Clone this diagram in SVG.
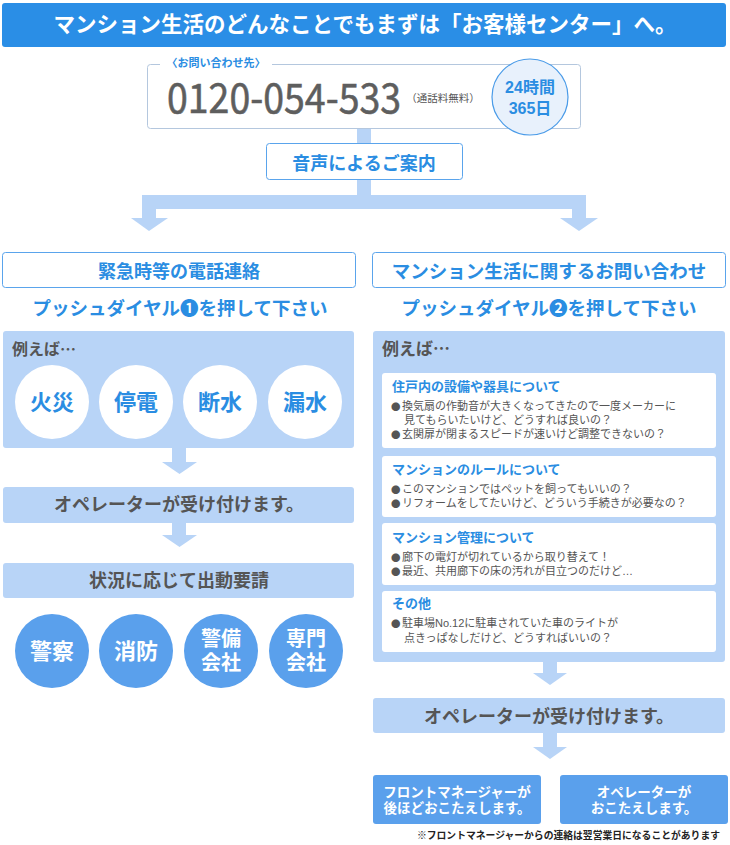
<svg xmlns="http://www.w3.org/2000/svg" width="730" height="845" viewBox="0 0 730 845">
<style>
text{font-family:"Noto Sans CJK JP","Liberation Sans",sans-serif;}
.t{font-family:"Liberation Sans","Noto Sans CJK JP",sans-serif;}
.bul{font-family:"Noto Sans CJK JP",sans-serif;font-size:9.5px;fill:#555555;}
.b{font-weight:700;}
.blue{fill:#2a8de2;}
.grey{fill:#555555;}
.white{fill:#ffffff;}
.panel{fill:#b8d4f7;}
.arrow{fill:#b8d4f7;}
.obox{fill:#fff;stroke:#5aa4ec;stroke-width:1;}
.wbox{fill:#fff;}
.dcirc{fill:#5aa0ec;}
.wcirc{fill:#fff;}
.c{text-anchor:middle;}
</style>
<rect width="730" height="845" fill="#ffffff"/>

<g id="header">
<rect x="2" y="3" width="724" height="44" rx="3" fill="#2a8ee6"/>
<text x="365" y="32" class="b white c" font-size="21.5">マンション生活のどんなことでもまずは「お客様センター」へ。</text>
</g>

<g id="contact">
<rect x="147.5" y="64.5" width="433" height="64" rx="3" fill="#fff" stroke="#b4c7de" stroke-width="1"/>
<rect x="160" y="59" width="112" height="10" fill="#fff"/>
<text x="216" y="67" class="t b blue c" font-size="11">〈お問い合わせ先〉</text>
<text x="0" y="0" transform="translate(167,113) scale(1,1.1)" font-family="'Liberation Sans',sans-serif" font-size="37.5" fill="#5e5e5e" stroke="#5e5e5e" stroke-width="0.5">0120-054-533</text>
<text x="443" y="102" class="t grey c" font-size="10.5">（通話料無料）</text>
<circle cx="530" cy="97" r="38" fill="#e8f1fc" stroke="#4a9be8" stroke-width="1.2"/>
<text x="530" y="93" class="t b blue c" font-size="16">24時間</text>
<text x="530" y="114" class="t b blue c" font-size="16">365日</text>
</g>

<g id="connectors">
<rect x="357" y="129" width="14" height="16" class="arrow"/>
<rect x="357" y="179" width="14" height="18" class="arrow"/>
<rect x="142" y="195" width="444" height="14" class="arrow"/>
<rect x="142" y="209" width="14" height="9" class="arrow"/>
<polygon points="131,218 168,218 149,231" class="arrow"/>
<rect x="572" y="209" width="14" height="9" class="arrow"/>
<polygon points="560,218 598,218 579,231" class="arrow"/>
<rect x="172" y="448" width="14" height="14" class="arrow"/>
<polygon points="162,462 197,462 179.5,474" class="arrow"/>
<rect x="172" y="523" width="14" height="12" class="arrow"/>
<polygon points="162,535 197,535 179.5,547" class="arrow"/>
<rect x="543" y="662" width="14" height="11" class="arrow"/>
<polygon points="533,673 567,673 550,685" class="arrow"/>
<rect x="543" y="733" width="14" height="14" class="arrow"/>
<polygon points="533,747 567,747 550,759" class="arrow"/>
</g>

<g id="voice">
<rect x="266.5" y="143.5" width="196" height="36" rx="3" class="obox"/>
<text x="364" y="170" class="b blue c" font-size="18">音声によるご案内</text>
</g>

<g id="emergency-title">
<rect x="2.5" y="252.5" width="353" height="35" rx="3" class="obox"/>
<text x="179" y="278" class="b blue c" font-size="18">緊急時等の電話連絡</text>
<text x="180" y="315" class="b blue c" font-size="18.5">プッシュダイヤル❶を押して下さい</text>
</g>

<g id="emergency-examples">
<rect x="3" y="331" width="351" height="117" rx="3" class="panel"/>
<text x="12" y="355" class="b grey" font-size="16">例えば…</text>
<circle cx="52" cy="402" r="37" class="wcirc"/>
<circle cx="136" cy="402" r="37" class="wcirc"/>
<circle cx="220" cy="402" r="37" class="wcirc"/>
<circle cx="305" cy="402" r="37" class="wcirc"/>
<text x="52" y="410" class="b blue c" font-size="22">火災</text>
<text x="136" y="410" class="b blue c" font-size="22">停電</text>
<text x="220" y="410" class="b blue c" font-size="22">断水</text>
<text x="305" y="410" class="b blue c" font-size="22">漏水</text>
</g>

<g id="operator-left">
<rect x="3" y="487" width="351" height="36" rx="3" class="panel"/>
<text x="179" y="511" class="b grey c" font-size="18">オペレーターが受け付けます。</text>
</g>

<g id="dispatch">
<rect x="3" y="563" width="351" height="35" rx="3" class="panel"/>
<text x="179" y="587" class="b grey c" font-size="18">状況に応じて出動要請</text>
</g>

<g id="responders">
<circle cx="52" cy="651" r="37" class="dcirc"/>
<circle cx="136" cy="651" r="37" class="dcirc"/>
<circle cx="221" cy="651" r="37" class="dcirc"/>
<circle cx="306" cy="651" r="37" class="dcirc"/>
<text x="52" y="659" class="b white c" font-size="22">警察</text>
<text x="136" y="659" class="b white c" font-size="22">消防</text>
<text x="221" y="646" class="t b white c" font-size="20">警備</text>
<text x="221" y="670" class="t b white c" font-size="20">会社</text>
<text x="306" y="646" class="t b white c" font-size="20">専門</text>
<text x="306" y="670" class="t b white c" font-size="20">会社</text>
</g>

<g id="inquiry-title">
<rect x="372.5" y="252.5" width="353" height="35" rx="3" class="obox"/>
<text x="549" y="278" class="b blue c" font-size="18.5">マンション生活に関するお問い合わせ</text>
<text x="549" y="315" class="b blue c" font-size="18.5">プッシュダイヤル❷を押して下さい</text>
</g>

<g id="inquiry-examples">
<rect x="373" y="331" width="352" height="331" rx="3" class="panel"/>
<text x="382" y="355" class="b grey" font-size="17">例えば…</text>

<rect x="382" y="373" width="334" height="75" rx="3" class="wbox"/>
<text x="392" y="391" class="t b blue" font-size="13">住戸内の設備や器具について</text>
<text x="391" y="410" class="bul">●</text>
<text x="402" y="410" class="t grey" font-size="11">換気扇の作動音が大きくなってきたので一度メーカーに</text>
<text x="404" y="424" class="t grey" font-size="11">見てもらいたいけど、どうすれば良いの？</text>
<text x="391" y="438" class="bul">●</text>
<text x="402" y="438" class="t grey" font-size="11">玄関扉が閉まるスピードが速いけど調整できないの？</text>

<rect x="382" y="456" width="334" height="61" rx="3" class="wbox"/>
<text x="392" y="474" class="t b blue" font-size="13">マンションのルールについて</text>
<text x="391" y="493" class="bul">●</text>
<text x="402" y="493" class="t grey" font-size="11">このマンションではペットを飼ってもいいの？</text>
<text x="391" y="507" class="bul">●</text>
<text x="402" y="507" class="t grey" font-size="11">リフォームをしてたいけど、どういう手続きが必要なの？</text>

<rect x="382" y="523" width="334" height="62" rx="3" class="wbox"/>
<text x="392" y="542" class="t b blue" font-size="13">マンション管理について</text>
<text x="391" y="561" class="bul">●</text>
<text x="402" y="561" class="t grey" font-size="11">廊下の電灯が切れているから取り替えて！</text>
<text x="391" y="575" class="bul">●</text>
<text x="402" y="575" class="t grey" font-size="11">最近、共用廊下の床の汚れが目立つのだけど…</text>

<rect x="382" y="591" width="334" height="61" rx="3" class="wbox"/>
<text x="392" y="608" class="t b blue" font-size="13">その他</text>
<text x="391" y="627" class="bul">●</text>
<text x="402" y="627" class="t grey" font-size="11">駐車場No.12に駐車されていた車のライトが</text>
<text x="404" y="642" class="t grey" font-size="11">点きっぱなしだけど、どうすればいいの？</text>
</g>

<g id="operator-right">
<rect x="373" y="698" width="352" height="35" rx="3" class="panel"/>
<text x="549" y="723" class="b grey c" font-size="18">オペレーターが受け付けます。</text>
</g>

<g id="front-manager">
<rect x="373" y="775" width="168" height="49" rx="3" class="dcirc"/>
<text x="457" y="797" class="t b white c" font-size="13.5">フロントマネージャーが</text>
<text x="457" y="813" class="t b white c" font-size="13.5">後ほどおこたえします。</text>
</g>

<g id="operator-answer">
<rect x="560" y="775" width="168" height="49" rx="3" class="dcirc"/>
<text x="644" y="797" class="t b white c" font-size="13.5">オペレーターが</text>
<text x="644" y="813" class="t b white c" font-size="13.5">おこたえします。</text>
</g>

<text x="720" y="839" class="t b" font-size="9.8" fill="#222" text-anchor="end">※フロントマネージャーからの連絡は翌営業日になることがあります</text>
</svg>
